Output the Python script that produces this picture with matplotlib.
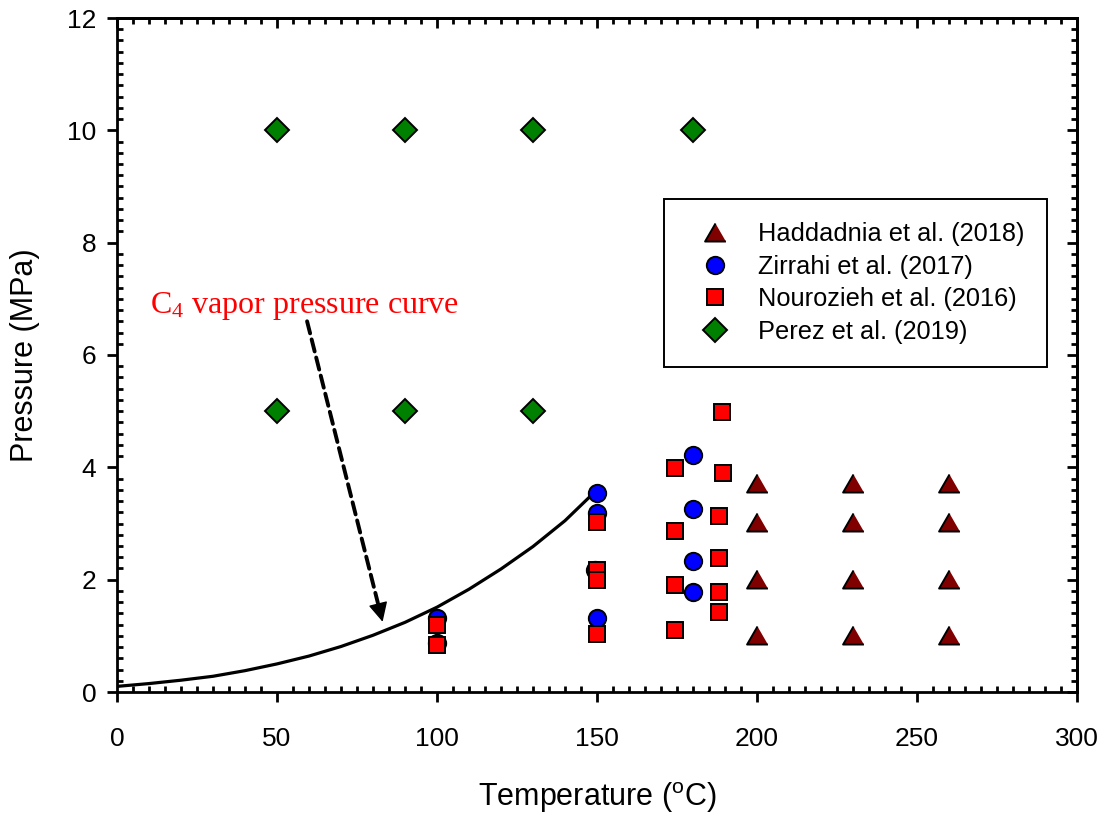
import matplotlib
matplotlib.use("Agg")
import matplotlib.pyplot as plt
from matplotlib.ticker import MultipleLocator
import numpy as np

plt.rcParams['font.family'] = ['Liberation Sans', 'DejaVu Sans']
plt.rcParams['mathtext.fontset'] = 'custom'
plt.rcParams['mathtext.rm'] = 'Liberation Sans'

# Haddadnia et al. (2018)
had_T = [200, 200, 200, 200, 230, 230, 230, 230, 260, 260, 260, 260]
had_P = [3.72, 3.02, 2.02, 1.02, 3.72, 3.02, 2.02, 1.02, 3.72, 3.02, 2.02, 1.02]
# Zirrahi et al. (2017)
zir_T = [100, 100, 150, 150, 149.5, 150, 180, 180, 180, 180]
zir_P = [1.32, 0.88, 3.54, 3.18, 2.17, 1.32, 4.22, 3.26, 2.34, 1.78]
# Nourozieh et al. (2016)
nou_T = [100, 100, 150, 150, 150, 150, 174.5, 174.5, 174.5, 174.5,
         189, 189.5, 188, 188, 188, 188]
nou_P = [1.19, 0.84, 3.03, 2.17, 1.99, 1.03, 3.99, 2.86, 1.90, 1.10,
         4.98, 3.90, 3.13, 2.39, 1.78, 1.42]
# Perez et al. (2019)
per_T = [50, 90, 130, 180, 50, 90, 130]
per_P = [10, 10, 10, 10, 5, 5, 5]
# C4 vapor pressure curve
vp_T = [0, 10, 20, 30, 40, 50, 60, 70, 80, 90, 100, 110, 120, 130, 140, 150]
vp_P = [0.10, 0.15, 0.21, 0.28, 0.38, 0.50, 0.64, 0.81, 1.01, 1.24,
        1.51, 1.83, 2.19, 2.59, 3.05, 3.60]

labels = ['Haddadnia et al. (2018)', 'Zirrahi et al. (2017)',
          'Nourozieh et al. (2016)', 'Perez et al. (2019)']

fig = plt.figure(figsize=(11.04, 8.18), dpi=100)
ax = fig.add_axes([117/1104, 1-692/818, 960/1104, 674/818])

ax.plot(vp_T, vp_P, color='black', lw=2.3, zorder=2)

tri = [(0, 0.433), (-0.5, -0.433), (0.5, -0.433)]
mk = dict(linestyle='none', markeredgecolor='black', markeredgewidth=1.4, zorder=3)
ax.plot(had_T, had_P, marker=tri, markersize=15, markerfacecolor='#800000', label=labels[0], **mk)
ax.plot(zir_T, zir_P, marker='o', markersize=12.5, markerfacecolor='#0000ff', label=labels[1], **mk)
ax.plot(nou_T, nou_P, marker='s', markersize=12, markerfacecolor='#ff0000', label=labels[2], **mk)
ax.plot(per_T, per_P, marker='D', markersize=12, markerfacecolor='#008000', label=labels[3], **mk)

ax.set_xlim(0, 300)
ax.set_ylim(0, 12)
ax.xaxis.set_major_locator(MultipleLocator(50))
ax.xaxis.set_minor_locator(MultipleLocator(5))
ax.yaxis.set_major_locator(MultipleLocator(2))
ax.yaxis.set_minor_locator(MultipleLocator(0.2))

SW = 2.0
for s in ax.spines.values():
    s.set_linewidth(SW)

ax.tick_params(which='major', direction='out', length=7, width=SW, labelsize=19, top=False, right=False)
ax.tick_params(which='minor', direction='in', length=4.5, width=SW, top=False, right=False)
ax.tick_params(axis='x', which='major', pad=18)
ax.tick_params(axis='y', which='major', pad=8)

# top & right ticks (inward)
axt = ax.secondary_xaxis('top')
axt.xaxis.set_major_locator(MultipleLocator(50))
axt.xaxis.set_minor_locator(MultipleLocator(5))
axt.tick_params(which='major', direction='in', length=7, width=SW, labeltop=False)
axt.tick_params(which='minor', direction='in', length=4.5, width=SW)
axt.spines['top'].set_linewidth(SW)
axr = ax.secondary_yaxis('right')
axr.yaxis.set_major_locator(MultipleLocator(2))
axr.yaxis.set_minor_locator(MultipleLocator(0.2))
axr.tick_params(which='major', direction='in', length=7, width=SW, labelright=False)
axr.tick_params(which='minor', direction='in', length=4.5, width=SW)
axr.spines['right'].set_linewidth(SW)

ax.set_xlabel(r'Temperature ($\mathregular{^o}$C)', fontsize=22, labelpad=21)
ax.set_ylabel('Pressure (MPa)', fontsize=22, labelpad=19)

ax.text(10.3, 6.75, r'C$\mathregular{_4}$ vapor pressure curve', color='red',
        fontsize=23, family=['Liberation Serif', 'DejaVu Serif'], ha='left', va='baseline')

arrow_start = (59.4, 6.6)
arrow_tip = (83.0, 1.25)
ax.annotate('', xy=arrow_tip, xytext=arrow_start,
            arrowprops=dict(arrowstyle='-', linestyle=(0, (3.2, 1.6)), lw=2.8,
                            color='black', shrinkA=0, shrinkB=14))
head_from = (arrow_tip[0] - 0.06 * (arrow_tip[0] - arrow_start[0]),
             arrow_tip[1] - 0.06 * (arrow_tip[1] - arrow_start[1]))
ax.annotate('', xy=arrow_tip, xytext=head_from,
            arrowprops=dict(arrowstyle='-|>', lw=1.0, color='black',
                            mutation_scale=30, shrinkA=0, shrinkB=0))

leg = ax.legend(loc='upper left', bbox_to_anchor=((664-117)/960, (692-199)/674),
                borderaxespad=0, fontsize=18.3, frameon=True, fancybox=False,
                edgecolor='black', framealpha=1, borderpad=0.9, labelspacing=0.34,
                handlelength=2.2, handletextpad=0.6, numpoints=1)
leg.get_frame().set_linewidth(1.4)

fig.savefig('out.png', dpi=100)
